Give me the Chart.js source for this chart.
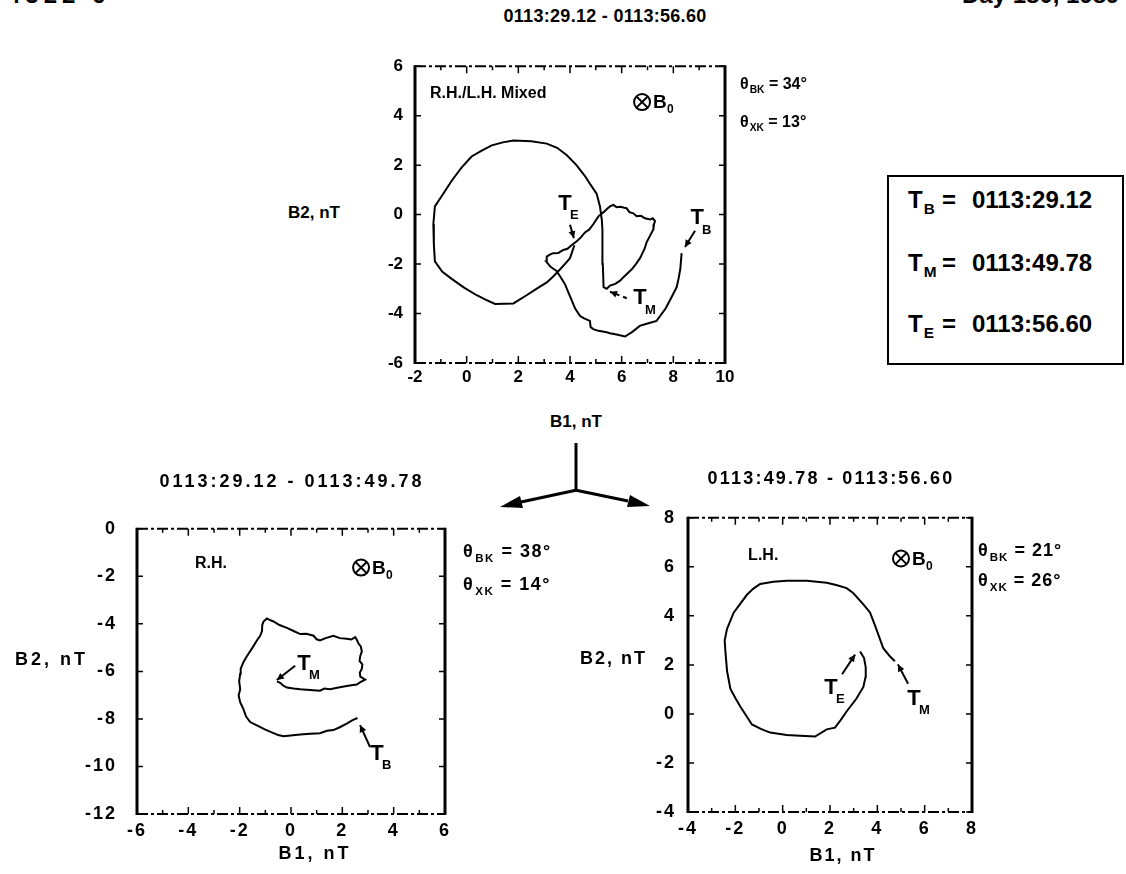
<!DOCTYPE html>
<html lang="en">
<head>
<meta charset="utf-8">
<title>B1-B2 hodograms</title>
<script src="https://cdn.jsdelivr.net/npm/chart.js"></script>
<style>
  html, body { margin: 0; padding: 0; background: #fff; }
  body { position: relative; width: 1126px; height: 874px; overflow: hidden;
         font-family: "Liberation Sans", Arial, Helvetica, sans-serif; font-weight: bold; color: #000; }
  canvas { position: absolute; }
  .lbl { position: absolute; white-space: nowrap; line-height: 1; transform: translateY(-50%); }
  .ctr { transform: translate(-50%, -50%); }
  .s { font-size: 0.64em; position: relative; top: 0.42em; margin-left: 1px; }
  #legendBox { position: absolute; left: 887px; top: 175px; width: 233px; height: 186px; border: 2px solid #000; }
  .row { position: absolute; left: 19px; font-size: 24px; line-height: 1; white-space: nowrap; transform: translateY(-50%); }
  .row span { display: inline-block; }
  #triad { position: absolute; left: 0; top: 0; }
</style>
</head>
<body>

<div class="lbl" style="left:7px;top:-5px;font-size:24px;letter-spacing:5px">4322 6</div>
<div class="lbl" style="left:962px;top:-5px;font-size:24px">Day 180, 1989</div>

<!-- top panel -->
<div class="lbl ctr" id="titleFull" style="left:605px;top:16px;font-size:18px;letter-spacing:0.3px"></div>
<canvas id="fullChart" width="373" height="351" style="left:370px;top:44px;width:373px;height:351px"></canvas>
<div class="lbl" style="left:288px;top:212px;font-size:17px">B2, nT</div>
<div class="lbl ctr" style="left:576px;top:421px;font-size:17px">B1, nT</div>
<div class="lbl" id="bkFull" style="left:740px;top:84px;font-size:16px"></div>
<div class="lbl" id="xkFull" style="left:740px;top:122px;font-size:16px"></div>

<div id="legendBox">
  <div class="row" style="top:23px"><span style="width:34px">T<span class="s">B</span></span><span style="width:30px">=</span><span id="tB"></span></div>
  <div class="row" style="top:86px"><span style="width:34px">T<span class="s">M</span></span><span style="width:30px">=</span><span id="tM"></span></div>
  <div class="row" style="top:147px"><span style="width:34px">T<span class="s">E</span></span><span style="width:30px">=</span><span id="tE"></span></div>
</div>

<svg id="triad" width="1126" height="874">
  <g stroke="#000" stroke-width="3" fill="none">
    <line x1="576" y1="443" x2="576" y2="491"/>
    <line x1="577" y1="490" x2="521" y2="502"/>
    <line x1="575" y1="490" x2="628" y2="501"/>
  </g>
  <polygon points="500,507 523,508 520,496" fill="#000"/>
  <polygon points="650,506 627,507 630,495" fill="#000"/>
</svg>

<!-- bottom left panel -->
<div class="lbl ctr" id="titleRH" style="left:292px;top:481px;font-size:18px;letter-spacing:3px"></div>
<canvas id="rhChart" width="382" height="348" style="left:81px;top:498px;width:382px;height:348px"></canvas>
<div class="lbl" style="left:15px;top:659px;font-size:18px;letter-spacing:3px">B2, nT</div>
<div class="lbl ctr" style="left:315px;top:853px;font-size:18px;letter-spacing:3px">B1, nT</div>
<div class="lbl" id="bkRH" style="left:463px;top:551px;font-size:18px;letter-spacing:1.5px"></div>
<div class="lbl" id="xkRH" style="left:463px;top:584px;font-size:18px;letter-spacing:1.5px"></div>

<!-- bottom right panel -->
<div class="lbl ctr" id="titleLH" style="left:831px;top:478px;font-size:18px;letter-spacing:2.2px"></div>
<canvas id="lhChart" width="350" height="349" style="left:640px;top:495px;width:350px;height:349px"></canvas>
<div class="lbl" style="left:580px;top:658px;font-size:18px;letter-spacing:2px">B2, nT</div>
<div class="lbl ctr" style="left:843px;top:855px;font-size:18px;letter-spacing:2px">B1, nT</div>
<div class="lbl" id="bkLH" style="left:978px;top:550px;font-size:18px;letter-spacing:1px"></div>
<div class="lbl" id="xkLH" style="left:978px;top:580px;font-size:18px;letter-spacing:1px"></div>

<script>
// field traces in the B1-B2 plane, [B1, B2] in nT

// T_B -> T_M -> T_E, whole interval
const fullTrace = [
  [8.32, -1.56], [8.27, -2.2], [8.2, -2.6], [8.13, -2.93], [7.95, -3.3], [7.7, -3.8], [7.35, -4.3],
  [7.0, -4.4], [6.7, -4.5], [6.4, -4.75], [6.13, -4.93], [5.8, -4.85], [5.55, -4.8], [5.42, -4.76],
  [5.1, -4.7], [4.9, -4.63], [4.8, -4.55], [4.77, -4.3], [4.55, -4.2], [4.39, -4.1], [4.2, -3.8],
  [4.06, -3.45], [3.92, -3.1], [3.8, -2.8], [3.62, -2.5], [3.48, -2.28], [3.3, -2.15], [3.23, -2.09],
  [3.08, -1.9], [3.1, -1.7], [3.22, -1.62], [3.35, -1.56], [3.55, -1.55], [3.74, -1.43], [3.9, -1.38],
  [4.06, -1.24], [4.26, -1.08], [4.42, -0.92], [4.58, -0.72], [4.75, -0.6], [4.9, -0.39], [5.1, -0.07],
  [5.3, 0.1], [5.45, 0.25], [5.55, 0.33], [5.68, 0.39], [5.8, 0.3], [5.95, 0.32], [6.1, 0.28],
  [6.19, 0.26], [6.3, 0.1], [6.45, 0.05], [6.58, -0.07], [6.75, -0.05], [6.9, -0.15], [7.1, -0.2],
  [7.2, -0.15], [7.29, -0.26], [7.25, -0.4], [7.23, -0.59], [7.1, -0.85], [6.97, -1.11], [6.88, -1.4],
  [6.71, -1.76], [6.55, -2.0], [6.4, -2.2], [6.19, -2.41], [6.05, -2.55], [5.94, -2.67], [5.75, -2.8],
  [5.55, -2.87], [5.42, -3.0],
  [5.3, -2.93], [5.27, -2.0], [5.26, -1.11], [5.25, -0.6], [5.23, -0.2], [5.16, 0.33], [5.03, 0.85],
  [4.8, 1.2], [4.58, 1.56], [4.25, 2.0], [3.87, 2.41], [3.5, 2.7], [3.1, 2.87], [2.5, 2.97],
  [1.81, 3.0], [1.4, 2.92], [0.97, 2.8], [0.6, 2.6], [0.19, 2.35], [-0.2, 1.9], [-0.58, 1.37],
  [-0.9, 0.85], [-1.23, 0.33], [-1.29, -0.39], [-1.27, -1.2], [-1.23, -1.89], [-0.95, -2.3],
  [-0.58, -2.6], [-0.1, -2.95], [0.39, -3.26], [0.75, -3.45], [1.1, -3.61], [1.81, -3.59],
  [2.32, -3.26], [2.7, -3.0], [3.1, -2.74], [3.35, -2.5], [3.61, -2.22], [3.8, -2.0], [4.0, -1.76],
  [4.17, -1.24]
];

// T_B -> T_M, right-handed part
const rhTrace = [
  [2.59, -7.96], [2.4, -8.05], [2.17, -8.2], [1.9, -8.35], [1.65, -8.47], [1.4, -8.5], [1.13, -8.6],
  [0.75, -8.62], [0.36, -8.66], [-0.29, -8.73], [-0.5, -8.68], [-0.68, -8.6], [-1.0, -8.45],
  [-1.33, -8.27], [-1.59, -8.13], [-1.75, -7.9], [-1.85, -7.6], [-1.98, -7.3], [-2.04, -7.01],
  [-1.98, -6.75], [-2.02, -6.42], [-1.98, -6.1], [-1.96, -5.89], [-1.85, -5.6], [-1.72, -5.36],
  [-1.5, -5.0], [-1.33, -4.7], [-1.2, -4.5], [-1.13, -4.3], [-1.12, -4.05], [-1.07, -3.9],
  [-0.94, -3.77], [-0.8, -3.85], [-0.68, -3.9], [-0.45, -4.05], [-0.16, -4.17], [0.1, -4.3],
  [0.36, -4.43], [0.6, -4.42], [0.88, -4.5], [1.0, -4.65], [1.13, -4.7], [1.35, -4.6], [1.65, -4.5],
  [1.9, -4.6], [2.17, -4.63], [2.35, -4.66], [2.5, -4.56], [2.58, -4.7], [2.63, -4.83], [2.72, -4.95],
  [2.76, -5.16], [2.7, -5.35], [2.67, -5.56], [2.78, -5.7], [2.76, -5.89], [2.68, -6.05], [2.7, -6.22],
  [2.89, -6.35], [2.7, -6.45], [2.56, -6.55], [2.35, -6.58], [2.17, -6.61], [1.85, -6.68], [1.52, -6.75],
  [1.3, -6.72], [1.13, -6.81], [0.75, -6.78], [0.36, -6.75], [0.1, -6.72], [-0.16, -6.68], [-0.3, -6.6],
  [-0.42, -6.48], [-0.55, -6.42]
];

// T_M -> T_E, left-handed part
const lhTrace = [
  [4.74, 2.15], [4.53, 2.35], [4.25, 2.68], [4.1, 3.08], [3.9, 3.61], [3.69, 4.14], [3.41, 4.47],
  [2.98, 4.93], [2.7, 5.13], [2.3, 5.25], [1.86, 5.35], [1.02, 5.43], [0.17, 5.43], [-0.39, 5.39],
  [-0.95, 5.3], [-1.25, 5.1], [-1.51, 4.86], [-2.07, 4.13], [-2.35, 3.47], [-2.45, 3.0], [-2.42, 2.55],
  [-2.38, 2.1], [-2.35, 1.75], [-2.21, 1.03], [-2.0, 0.65], [-1.79, 0.3], [-1.3, -0.43], [-0.9, -0.62],
  [-0.53, -0.76], [0.17, -0.86], [0.74, -0.89], [1.37, -0.92], [1.86, -0.63], [2.21, -0.56],
  [2.45, -0.25], [2.7, 0.1], [3.12, 0.63], [3.41, 1.1], [3.5, 1.5], [3.51, 1.89], [3.44, 2.28],
  [3.27, 2.55]
];

// axis ranges (nT) and tick spacing
const fullRange = { x: [-2, 10], y: [-6, 6] };
const rhRange = { x: [-6, 6], y: [-12, 0] };
const lhRange = { x: [-4, 8], y: [-4, 8] };
const tickStep = 2;

// interval boundaries T_B, T_M, T_E and angles per panel (full, R.H., L.H.)
const times = ['0113:29.12', '0113:49.78', '0113:56.60'];
const thetaBK = [34, 38, 21];
const thetaXK = [13, 14, 26];

const FONT = '"Liberation Sans", Arial, Helvetica, sans-serif';

// text outside the plot boxes
document.getElementById('titleFull').textContent = times[0] + ' - ' + times[2];
document.getElementById('titleRH').textContent = times[0] + ' - ' + times[1];
document.getElementById('titleLH').textContent = times[1] + ' - ' + times[2];
document.getElementById('tB').textContent = times[0];
document.getElementById('tM').textContent = times[1];
document.getElementById('tE').textContent = times[2];
['Full', 'RH', 'LH'].forEach((k, i) => {
  document.getElementById('bk' + k).innerHTML = 'θ<span class="s">BK</span> = ' + thetaBK[i] + '°';
  document.getElementById('xk' + k).innerHTML = 'θ<span class="s">XK</span> = ' + thetaXK[i] + '°';
});

// box frame with inward ticks on all four sides
const frame = {
  id: 'frame',
  afterDatasetsDraw(chart) {
    const { ctx, chartArea: a, scales: { x, y } } = chart;
    ctx.save();
    ctx.strokeStyle = '#000';
    ctx.lineWidth = 1.5;
    ctx.beginPath();
    for (let v = x.min; v <= x.max + 1e-9; v += tickStep / 2) {
      const p = x.getPixelForValue(v);
      const len = Math.abs((v - x.min) % tickStep) < 1e-9 ? 7 : 4;
      ctx.moveTo(p, a.top); ctx.lineTo(p, a.top + len);
      ctx.moveTo(p, a.bottom); ctx.lineTo(p, a.bottom - len);
    }
    for (let v = y.min; v <= y.max + 1e-9; v += tickStep) {
      const p = y.getPixelForValue(v);
      ctx.moveTo(a.left, p); ctx.lineTo(a.left + 6, p);
      ctx.moveTo(a.right, p); ctx.lineTo(a.right - 6, p);
    }
    ctx.stroke();
    ctx.lineWidth = 3;
    ctx.beginPath();
    ctx.moveTo(a.left, a.top - 1); ctx.lineTo(a.left, a.bottom + 1);
    ctx.moveTo(a.right, a.top - 1); ctx.lineTo(a.right, a.bottom + 1);
    ctx.stroke();
    ctx.lineWidth = 2;
    ctx.setLineDash([11, 3, 3, 3]);
    ctx.beginPath();
    ctx.moveTo(a.left, a.top); ctx.lineTo(a.right, a.top);
    ctx.moveTo(a.left, a.bottom); ctx.lineTo(a.right, a.bottom);
    ctx.stroke();
    ctx.restore();
  }
};

function arrowHead(ctx, x0, y0, x1, y1, len, half) {
  const d = Math.hypot(x1 - x0, y1 - y0), ux = (x1 - x0) / d, uy = (y1 - y0) / d;
  ctx.beginPath();
  ctx.moveTo(x1, y1);
  ctx.lineTo(x1 - ux * len - uy * half, y1 - uy * len + ux * half);
  ctx.lineTo(x1 - ux * len + uy * half, y1 - uy * len - ux * half);
  ctx.closePath();
  ctx.fill();
}

// labels and pointers placed in data coordinates
const notes = {
  id: 'notes',
  afterDatasetsDraw(chart, args, opts) {
    const { ctx, scales: { x, y } } = chart;
    const px = v => x.getPixelForValue(v), py = v => y.getPixelForValue(v);
    ctx.save();
    ctx.fillStyle = '#000';
    ctx.strokeStyle = '#000';
    ctx.textBaseline = 'middle';
    for (const n of opts.items || []) {
      if (n.kind === 'text') {
        ctx.font = `bold ${n.size}px ${FONT}`;
        ctx.textAlign = 'left';
        ctx.fillText(n.text, px(n.at[0]), py(n.at[1]));
      } else if (n.kind === 'b0') {
        const cx = px(n.at[0]), cy = py(n.at[1]), r = 8, k = r * 0.7;
        ctx.lineWidth = 2;
        ctx.beginPath(); ctx.arc(cx, cy, r, 0, Math.PI * 2); ctx.stroke();
        ctx.beginPath();
        ctx.moveTo(cx - k, cy - k); ctx.lineTo(cx + k, cy + k);
        ctx.moveTo(cx + k, cy - k); ctx.lineTo(cx - k, cy + k);
        ctx.stroke();
        ctx.textAlign = 'left';
        ctx.font = `bold 19px ${FONT}`;
        ctx.fillText('B', cx + 11, cy + 1);
        ctx.font = `bold 12px ${FONT}`;
        ctx.fillText('0', cx + 25, cy + 8);
      } else if (n.kind === 'T') {
        const cx = px(n.at[0]), cy = py(n.at[1]);
        ctx.textAlign = 'center';
        ctx.font = `bold 22px ${FONT}`;
        ctx.fillText('T', cx, cy);
        ctx.textAlign = 'left';
        ctx.font = `bold 13px ${FONT}`;
        ctx.fillText(n.sub, cx + 5, cy + 12);
      } else if (n.kind === 'arrow' || n.kind === 'dash') {
        const x0 = px(n.from[0]), y0 = py(n.from[1]), x1 = px(n.to[0]), y1 = py(n.to[1]);
        ctx.lineWidth = 2;
        if (n.kind === 'dash') ctx.setLineDash([4, 4]);
        ctx.beginPath(); ctx.moveTo(x0, y0); ctx.lineTo(x1, y1); ctx.stroke();
        ctx.setLineDash([]);
        arrowHead(ctx, x0, y0, x1, y1, 7, 3.5);
      }
    }
    ctx.restore();
  }
};

// wider letter spacing for the tick numbers of the lower panels
const spacing = {
  id: 'spacing',
  beforeDraw(chart, args, opts) { chart.ctx.letterSpacing = (opts.px || 0) + 'px'; },
  beforeDatasetsDraw(chart) { chart.ctx.letterSpacing = '0px'; }
};

function hodogram(id, trace, range, o) {
  const tickFont = { family: FONT, size: o.tickSize, weight: 'bold' };
  return new Chart(document.getElementById(id), {
    type: 'scatter',
    data: {
      datasets: [{
        data: trace.map(([b1, b2]) => ({ x: b1, y: b2 })),
        showLine: true,
        borderColor: '#000',
        borderWidth: 2,
        pointRadius: 0,
        tension: 0,
        fill: false
      }]
    },
    options: {
      responsive: false,
      animation: false,
      events: [],
      layout: { padding: { top: 14, right: 18, left: 0, bottom: 0 } },
      plugins: {
        legend: { display: false },
        tooltip: { enabled: false },
        notes: { items: o.notes },
        spacing: { px: o.spacing }
      },
      scales: {
        x: {
          type: 'linear', min: range.x[0], max: range.x[1],
          grid: { display: false, drawTicks: false },
          border: { display: false },
          ticks: { stepSize: tickStep, color: '#000', font: tickFont, padding: o.xPad, maxRotation: 0 },
          afterFit: s => { s.height = 32; }
        },
        y: {
          type: 'linear', min: range.y[0], max: range.y[1],
          grid: { display: false, drawTicks: false },
          border: { display: false },
          ticks: { stepSize: tickStep, color: '#000', font: tickFont, padding: o.yPad },
          afterFit: s => { s.width = o.yWidth; }
        }
      }
    },
    plugins: [frame, notes, spacing]
  });
}

// whole interval
hodogram('fullChart', fullTrace, fullRange, {
  tickSize: 17, spacing: 0, xPad: 4, yPad: 12, yWidth: 45,
  notes: [
    { kind: 'text', at: [-1.42, 4.91], text: 'R.H./L.H. Mixed', size: 16 },
    { kind: 'b0', at: [6.79, 4.55] },
    { kind: 'T', at: [3.81, 0.45], sub: 'E' },
    { kind: 'arrow', from: [4.0, -0.41], to: [4.15, -0.95] },
    { kind: 'T', at: [8.92, -0.14], sub: 'B' },
    { kind: 'arrow', from: [8.84, -0.65], to: [8.45, -1.31] },
    { kind: 'T', at: [6.71, -3.38], sub: 'M' },
    { kind: 'dash', from: [6.2, -3.38], to: [5.55, -3.12] }
  ]
});

// T_B to T_M
hodogram('rhChart', rhTrace, rhRange, {
  tickSize: 18, spacing: 2, xPad: 6, yPad: 20, yWidth: 56,
  notes: [
    { kind: 'text', at: [-3.74, -1.47], text: 'R.H.', size: 16 },
    { kind: 'b0', at: [2.73, -1.63] },
    { kind: 'T', at: [0.51, -5.68], sub: 'M' },
    { kind: 'arrow', from: [0.16, -5.76], to: [-0.55, -6.36] },
    { kind: 'T', at: [3.35, -9.46], sub: 'B' },
    { kind: 'arrow', from: [3.08, -9.18], to: [2.69, -8.26] }
  ]
});

// T_M to T_E
hodogram('lhChart', lhTrace, lhRange, {
  tickSize: 18, spacing: 2, xPad: 6, yPad: 12, yWidth: 48,
  notes: [
    { kind: 'text', at: [-1.46, 6.46], text: 'L.H.', size: 16 },
    { kind: 'b0', at: [5.0, 6.34] },
    { kind: 'T', at: [2.04, 1.07], sub: 'E' },
    { kind: 'arrow', from: [2.51, 1.62], to: [3.06, 2.42] },
    { kind: 'T', at: [5.55, 0.63], sub: 'M' },
    { kind: 'arrow', from: [5.3, 1.23], to: [4.87, 2.02] }
  ]
});
</script>
</body>
</html>
